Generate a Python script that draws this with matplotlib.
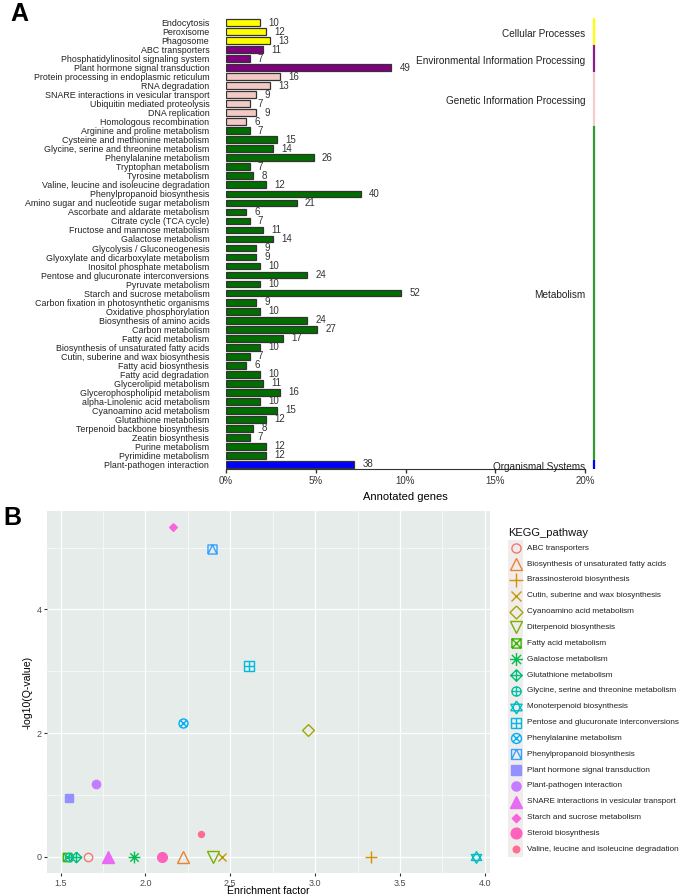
import numpy as np
import matplotlib
matplotlib.use('Agg')
import matplotlib.pyplot as plt
from matplotlib.path import Path
from matplotlib.patches import Rectangle

plt.rcParams['font.family'] = ['Liberation Sans', 'DejaVu Sans']

# ---------------- panel A: KEGG classification ----------------
pathways = [
    'Endocytosis', 'Peroxisome', 'Phagosome',
    'ABC transporters', 'Phosphatidylinositol signaling system',
    'Plant hormone signal transduction',
    'Protein processing in endoplasmic reticulum', 'RNA degradation',
    'SNARE interactions in vesicular transport', 'Ubiquitin mediated proteolysis',
    'DNA replication', 'Homologous recombination',
    'Arginine and proline metabolism', 'Cysteine and methionine metabolism',
    'Glycine, serine and threonine metabolism', 'Phenylalanine metabolism',
    'Tryptophan metabolism', 'Tyrosine metabolism',
    'Valine, leucine and isoleucine degradation', 'Phenylpropanoid biosynthesis',
    'Amino sugar and nucleotide sugar metabolism', 'Ascorbate and aldarate metabolism',
    'Citrate cycle (TCA cycle)', 'Fructose and mannose metabolism',
    'Galactose metabolism', 'Glycolysis / Gluconeogenesis',
    'Glyoxylate and dicarboxylate metabolism', 'Inositol phosphate metabolism',
    'Pentose and glucuronate interconversions', 'Pyruvate metabolism',
    'Starch and sucrose metabolism', 'Carbon fixation in photosynthetic organisms',
    'Oxidative phosphorylation', 'Biosynthesis of amino acids', 'Carbon metabolism',
    'Fatty acid metabolism', 'Biosynthesis of unsaturated fatty acids',
    'Cutin, suberine and wax biosynthesis', 'Fatty acid biosynthesis',
    'Fatty acid degradation', 'Glycerolipid metabolism',
    'Glycerophospholipid metabolism', 'alpha-Linolenic acid metabolism',
    'Cyanoamino acid metabolism', 'Glutathione metabolism',
    'Terpenoid backbone biosynthesis', 'Zeatin biosynthesis',
    'Purine metabolism', 'Pyrimidine metabolism', 'Plant-pathogen interaction',
]
counts = [10, 12, 13, 11, 7, 49, 16, 13, 9, 7, 9, 6,
          7, 15, 14, 26, 7, 8, 12, 40, 21, 6, 7, 11, 14, 9, 9, 10, 24, 10,
          52, 9, 10, 24, 27, 17, 10, 7, 6, 10, 11, 16, 10, 15, 12, 8, 7, 12, 12,
          38]
total_genes = 533

groups = ['Cellular Processes', 'Environmental Information Processing',
          'Genetic Information Processing', 'Metabolism', 'Organismal Systems']
group_sizes = [3, 3, 6, 37, 1]

# ---------------- panel B: enrichment scatter ----------------
kegg = [
    'ABC transporters', 'Biosynthesis of unsaturated fatty acids',
    'Brassinosteroid biosynthesis', 'Cutin, suberine and wax biosynthesis',
    'Cyanoamino acid metabolism', 'Diterpenoid biosynthesis',
    'Fatty acid metabolism', 'Galactose metabolism', 'Glutathione metabolism',
    'Glycine, serine and threonine metabolism', 'Monoterpenoid biosynthesis',
    'Pentose and glucuronate interconversions', 'Phenylalanine metabolism',
    'Phenylpropanoid biosynthesis', 'Plant hormone signal transduction',
    'Plant-pathogen interaction', 'SNARE interactions in vesicular transport',
    'Starch and sucrose metabolism', 'Steroid biosynthesis',
    'Valine, leucine and isoleucine degradation',
]
enrichment = [1.66, 2.22, 3.33, 2.45, 2.96, 2.40, 1.535, 1.93, 1.59, 1.55,
              3.95, 2.61, 2.22, 2.39, 1.55, 1.71, 1.78, 2.16, 2.10, 2.33]
neglog_q = [0, 0, 0, 0, 2.05, 0, 0, 0, 0, 0,
            0, 3.08, 2.16, 4.98, 0.95, 1.18, 0, 5.33, 0, 0.37]

# ---------------- styles ----------------
group_colors = ['#FFFF00', '#800080', '#F2C9C4', '#006E00', '#0000FF']
line_colors = ['#FFFF00', '#8B1A8B', '#F4CCCC', '#2E9B2E', '#0000FF']
hue = ['#F8766D', '#EA8331', '#D89000', '#C09B00', '#A3A500', '#7CAE00',
       '#39B600', '#00BB4E', '#00BF7D', '#00C1A3', '#00BFC4', '#00BAE0',
       '#00B0F6', '#35A2FF', '#9590FF', '#C77CFF', '#E76BF3', '#FA62DB',
       '#FF62BC', '#FF6C91']

circ = Path.unit_circle()
sq = Path([(-1, -1), (1, -1), (1, 1), (-1, 1), (-1, -1)])
dia = Path([(0, 1), (1, 0), (0, -1), (-1, 0), (0, 1)])
hl = Path([(-1, 0), (1, 0)])
vl = Path([(0, -1), (0, 1)])
d1 = Path([(-1, -1), (1, 1)])
d2 = Path([(-1, 1), (1, -1)])
c1 = Path([(-.707, -.707), (.707, .707)])
c2 = Path([(-.707, .707), (.707, -.707)])
tri_up = Path([(0, 1), (.866, -.5), (-.866, -.5), (0, 1)])
tri_dn = Path([(0, -1), (.866, .5), (-.866, .5), (0, -1)])
tri_sq = Path([(-1, -1), (0, 1), (1, -1)])
comp = Path.make_compound_path

# (marker, size, filled) in ggplot shape order 1..20
shapes = [
    ('o', 6, False), ('^', 8, False), ('+', 9, False), ('x', 6, False),
    (dia, 8.5, False), ('v', 8.5, False), (comp(sq, d1, d2), 6, False),
    (comp(hl, vl, c1, c2), 8.5, False), (comp(dia, hl, vl), 7.5, False),
    (comp(circ, hl, vl), 6, False), (comp(tri_up, tri_dn), 8.5, False),
    (comp(sq, hl, vl), 6.5, False), (comp(circ, c1, c2), 6.5, False),
    (comp(sq, tri_sq), 6.5, False), ('s', 6, True), ('o', 6, True),
    ('^', 8, True), (dia, 5.5, True), ('o', 7, True), ('o', 4.3, True),
]


def put_marker(ax, x, y, k, scale=1.0, **kw):
    m, s, filled = shapes[k]
    ax.plot([x], [y], ls='none', marker=m, ms=s * scale, mec=hue[k], mew=1.0,
            mfc=hue[k] if filled else 'none', **kw)


fig = plt.figure(figsize=(6.85, 8.96), dpi=100)

# ---- panel A
axA = fig.add_axes([226 / 685, 1 - 469 / 896, 359 / 685, 451 / 896])
n = len(pathways)
ypos = np.arange(n)
pct = np.array(counts) / total_genes * 100
bar_colors = np.repeat(group_colors, group_sizes)
axA.barh(ypos, pct, height=0.75, color=bar_colors, edgecolor='#333333', linewidth=0.9)
for y, p, c in zip(ypos, pct, counts):
    axA.annotate(str(c), (p, y), xytext=(6, 0), textcoords='offset points',
                 va='center', fontsize=7, color='#333333')
axA.set_ylim(n - 0.5, -0.5)
axA.set_xlim(0, 20)
axA.set_yticks(ypos)
axA.set_yticklabels(pathways, fontsize=6.4, color='#222222')
axA.tick_params(axis='y', length=0, pad=12)
axA.set_xticks([0, 5, 10, 15, 20])
axA.set_xticklabels(['0%', '5%', '10%', '15%', '20%'])
axA.tick_params(axis='x', length=3, width=1, labelsize=7, color='#333333',
                labelcolor='#333333', pad=2)
for s in ['top', 'right', 'left']:
    axA.spines[s].set_visible(False)
axA.spines['bottom'].set_color('#333333')
axA.set_xlabel('Annotated genes', fontsize=8, labelpad=4)

start = 0
trans = axA.get_yaxis_transform()
for g, size, col in zip(groups, group_sizes, line_colors):
    axA.plot([1.026, 1.026], [start - 0.5, start + size - 0.5], transform=trans,
             color=col, lw=1.6, clip_on=False, solid_capstyle='butt')
    axA.text(1.0, start + (size - 1) / 2 + 0.25, g, transform=trans,
             ha='right', va='center', fontsize=7.2, color='#222222')
    start += size

fig.text(10 / 685, 1 - 2 / 896, 'A', fontsize=18, fontweight='bold', va='top')
fig.text(3 / 685, 1 - 506 / 896, 'B', fontsize=18, fontweight='bold', va='top')

# ---- panel B
axB = fig.add_axes([47 / 685, 1 - 873 / 896, 443 / 685, 362 / 896])
axB.set_facecolor('#E5ECEA')
axB.set_xlim(1.42, 4.03)
axB.set_ylim(-0.26, 5.59)
axB.set_xticks([1.5, 2.0, 2.5, 3.0, 3.5, 4.0])
axB.set_xticks([1.75, 2.25, 2.75, 3.25, 3.75], minor=True)
axB.set_yticks([0, 2, 4])
axB.set_yticks([1, 3, 5], minor=True)
axB.grid(which='major', color='white', lw=0.9)
axB.grid(which='minor', color='white', lw=0.45)
axB.set_axisbelow(True)
for s in axB.spines.values():
    s.set_visible(False)
axB.tick_params(which='major', length=2.5, color='#333333', labelsize=6.5,
                labelcolor='#4D4D4D', pad=1.5)
axB.tick_params(which='minor', length=0)
axB.set_xlabel('Enrichment factor', fontsize=7.6, labelpad=-1)
axB.set_ylabel('-log10(Q-value)', fontsize=7.6, labelpad=3)
for k in range(len(kegg)):
    put_marker(axB, enrichment[k], neglog_q[k], k, clip_on=False)

# ---- legend drawn in pixel space
axL = fig.add_axes([0, 0, 1, 1], facecolor='none')
axL.set_xlim(0, 685)
axL.set_ylim(896, 0)
axL.axis('off')
axL.text(508, 533, 'KEGG_pathway', fontsize=8, va='center', color='#111111')
for k, name in enumerate(kegg):
    yy = 548.3 + k * 15.84
    axL.add_patch(Rectangle((508.5, yy - 7.9), 15, 15.84, color='#F1ECEC', lw=0))
    put_marker(axL, 516, yy, k, scale=1.1)
    axL.text(527, yy, name, fontsize=5.9, va='center', color='#222222')

fig.savefig('out.png', dpi=100)
